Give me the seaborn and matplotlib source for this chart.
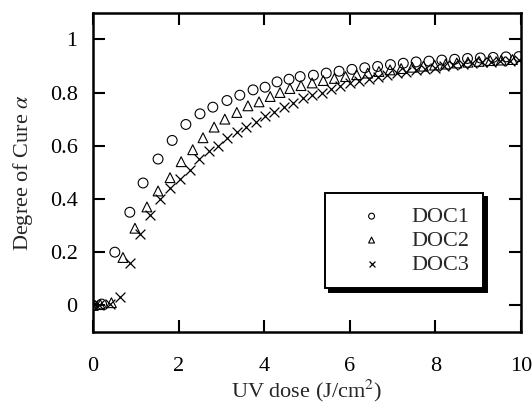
import numpy as np
import pandas as pd
import matplotlib
matplotlib.use("Agg")
import matplotlib.pyplot as plt
import seaborn as sns

# ---- data ----
doc1_x = [0.0, 0.2, 0.51, 0.86, 1.17, 1.52, 1.85, 2.17, 2.50, 2.80, 3.13, 3.43, 3.74, 4.02,
          4.30, 4.58, 4.84, 5.15, 5.45, 5.75, 6.05, 6.35, 6.65, 6.95, 7.25, 7.55, 7.85,
          8.15, 8.45, 8.75, 9.05, 9.35, 9.65, 9.95]
doc1_y = [0.0, 0.005, 0.20, 0.35, 0.46, 0.55, 0.62, 0.68, 0.72, 0.745, 0.77, 0.79, 0.81, 0.82,
          0.84, 0.85, 0.86, 0.865, 0.873, 0.88, 0.887, 0.893, 0.898, 0.905, 0.91, 0.915, 0.918,
          0.922, 0.925, 0.928, 0.93, 0.932, 0.934, 0.935]

doc2_x = [0.0, 0.17, 0.43, 0.70, 0.98, 1.26, 1.52, 1.80, 2.06, 2.33, 2.57, 2.83, 3.08, 3.36,
          3.62, 3.88, 4.14, 4.37, 4.60, 4.86, 5.12, 5.38, 5.64, 5.90, 6.16, 6.42, 6.68, 6.94,
          7.20, 7.46, 7.72, 7.98, 8.24, 8.50, 8.76, 9.02, 9.28, 9.54, 9.80]
doc2_y = [0.0, 0.003, 0.01, 0.18, 0.29, 0.37, 0.43, 0.48, 0.54, 0.585, 0.63, 0.67, 0.70, 0.725,
          0.75, 0.765, 0.785, 0.80, 0.815, 0.826, 0.836, 0.845, 0.853, 0.86, 0.867, 0.873, 0.879,
          0.885, 0.89, 0.895, 0.899, 0.903, 0.907, 0.911, 0.914, 0.917, 0.92, 0.922, 0.924]

doc3_x = [0.0, 0.15, 0.39, 0.62, 0.86, 1.10, 1.33, 1.57, 1.80, 2.03, 2.26, 2.48, 2.70, 2.92,
          3.14, 3.36, 3.58, 3.80, 4.02, 4.24, 4.46, 4.68, 4.90, 5.12, 5.34, 5.56, 5.78, 6.00,
          6.22, 6.44, 6.66, 6.88, 7.10, 7.32, 7.54, 7.76, 7.98, 8.20, 8.42, 8.64, 8.86, 9.08,
          9.30, 9.52, 9.74, 9.96]
doc3_y = [0.0, 0.003, 0.005, 0.03, 0.16, 0.27, 0.34, 0.40, 0.44, 0.475, 0.51, 0.55, 0.58, 0.60,
          0.63, 0.65, 0.67, 0.69, 0.71, 0.725, 0.745, 0.76, 0.78, 0.79, 0.80, 0.813, 0.825, 0.835,
          0.843, 0.851, 0.858, 0.865, 0.872, 0.878, 0.884, 0.889, 0.894, 0.898, 0.902, 0.906,
          0.91, 0.913, 0.916, 0.918, 0.92, 0.922]

series_names = ["DOC1", "DOC2", "DOC3"]
x_ticks = [0, 2, 4, 6, 8, 10]
y_ticks = [0, 0.2, 0.4, 0.6, 0.8, 1]
y_tick_labels = ["0", "0.2", "0.4", "0.6", "0.8", "1"]

df = pd.concat([
    pd.DataFrame({"dose": doc1_x, "alpha": doc1_y, "series": "DOC1"}),
    pd.DataFrame({"dose": doc2_x, "alpha": doc2_y, "series": "DOC2"}),
    pd.DataFrame({"dose": doc3_x, "alpha": doc3_y, "series": "DOC3"}),
])

sns.set_style("ticks")
plt.rcParams["font.family"] = ["Liberation Serif", "DejaVu Serif"]
plt.rcParams["mathtext.fontset"] = "stix"

FS = 16

fig = plt.figure(figsize=(5.32, 4.03), dpi=100)
ax = fig.add_axes([93 / 532, 1 - 332 / 403, 428 / 532, (332 - 12.7) / 403])

markers = {"DOC1": "o", "DOC2": "^", "DOC3": "x"}
for name in series_names:
    sub = df[df["series"] == name]
    if markers[name] == "x":
        sns.scatterplot(data=sub, x="dose", y="alpha", marker="x", color="black",
                        s=50, linewidth=0.9, ax=ax, label=name, clip_on=True)
    else:
        sns.scatterplot(data=sub, x="dose", y="alpha", marker=markers[name], color="black",
                        facecolor="none", edgecolor="black", s=50, linewidth=0.8,
                        ax=ax, label=name, clip_on=True)

ax.set_xlim(0, 10)
ax.set_ylim(-0.1, 1.1)
ax.set_xticks(x_ticks)
ax.set_xticklabels([str(t) for t in x_ticks])
ax.set_yticks(y_ticks)
ax.set_yticklabels(y_tick_labels)
ax.tick_params(direction="in", length=8.5, width=1.5, top=True, right=True,
               labelsize=FS, colors="black")
ax.tick_params(axis="x", pad=18)
ax.tick_params(axis="y", pad=11)
for sp in ax.spines.values():
    sp.set_linewidth(1.8)
    sp.set_color("black")

ax.set_xlabel("UV dose (J/cm$^2$)", fontsize=FS, labelpad=1)
ax.set_ylabel(r"Degree of Cure $\alpha$", fontsize=FS, labelpad=11)

leg = ax.legend(loc="upper right", bbox_to_anchor=(0.911, 0.435), borderaxespad=0,
                frameon=True, fancybox=False, markerscale=0.6, fontsize=FS,
                handlelength=3.0, handletextpad=0.3, labelspacing=0.15, borderpad=0.6,
                shadow={"ox": 3, "oy": -3, "color": "black", "alpha": 1})
leg.get_frame().set_edgecolor("black")
leg.get_frame().set_linewidth(1.4)
leg.get_frame().set_alpha(1)

fig.savefig("out.png", dpi=100)
